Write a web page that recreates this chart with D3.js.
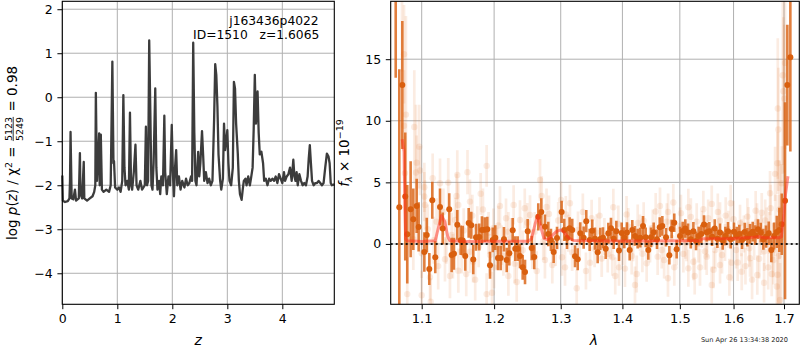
<!DOCTYPE html>
<html>
<head>
<meta charset="utf-8">
<script src="https://cdn.jsdelivr.net/npm/d3@7"></script>
<style>
  body { margin: 0; background: #fff; }
  svg { font-family: "DejaVu Sans", sans-serif; }
</style>
</head>
<body>
<div id="chart"></div>
<script>
// p(z) curve, [z, log p(z)]
const pzCurve = [
  [0.00,-1.78],[0.01,-2.35],[0.05,-2.38],[0.10,-2.36],[0.13,-2.30],[0.14,-1.9],[0.15,-0.79],[0.16,-1.55],
  [0.17,-2.3],[0.20,-2.32],[0.23,-2.1],[0.25,-2.35],[0.30,-2.3],[0.32,-1.27],[0.33,-2.2],[0.36,-2.3],
  [0.39,-1.47],[0.40,-2.3],[0.45,-2.35],[0.50,-2.3],[0.55,-2.25],[0.58,-2.15],[0.60,-2.0],[0.61,0.10],
  [0.63,-1.9],[0.65,-1.4],[0.67,-0.82],[0.68,-2.0],[0.70,-0.85],[0.72,-2.1],[0.75,-2.15],[0.80,-2.1],
  [0.85,-2.15],[0.88,-2.0],[0.91,0.81],[0.93,-1.5],[0.94,-1.45],[0.96,-2.05],[1.00,-2.1],[1.03,-2.05],
  [1.06,-2.15],[1.09,-1.9],[1.11,0.05],[1.13,-1.6],[1.15,-2.0],[1.18,-1.9],[1.21,-2.1],[1.23,-0.35],
  [1.25,-2.0],[1.27,-2.1],[1.30,-1.7],[1.33,-1.08],[1.35,-2.0],[1.38,-2.1],[1.42,-1.9],[1.45,-2.1],
  [1.50,-2.0],[1.52,-0.67],[1.54,-2.0],[1.56,-1.9],[1.58,1.29],[1.60,-0.3],[1.62,-2.0],[1.64,-2.1],
  [1.66,-1.5],[1.69,0.20],[1.71,-1.6],[1.73,-2.1],[1.76,-1.9],[1.78,-2.2],[1.80,-1.8],[1.83,-2.0],
  [1.855,-0.42],[1.87,-1.7],[1.90,-2.2],[1.93,-1.8],[1.96,-2.0],[1.99,-0.63],[2.01,-1.7],[2.03,-2.25],
  [2.05,-1.6],[2.07,-1.2],[2.09,-2.0],[2.12,-1.8],[2.15,-2.1],[2.18,-1.9],[2.22,-2.05],[2.25,-1.85],
  [2.28,-2.0],[2.31,-1.95],[2.34,-1.8],[2.36,-1.9],[2.38,1.24],[2.40,-0.8],[2.42,-1.9],[2.44,-2.0],
  [2.47,-1.24],[2.49,-1.8],[2.51,-1.5],[2.54,-0.77],[2.56,-1.3],[2.58,-1.9],[2.61,-1.7],[2.64,-1.95],
  [2.67,-1.85],[2.70,-2.0],[2.73,-1.9],[2.76,-0.5],[2.78,0.75],[2.80,0.5],[2.82,-0.2],[2.84,-1.3],
  [2.87,-1.9],[2.89,-2.1],[2.92,-1.85],[2.94,-0.6],[2.96,-1.2],[2.98,-1.0],[3.00,-0.75],[3.02,-1.5],
  [3.04,-1.9],[3.07,-2.0],[3.10,-1.6],[3.12,0.35],[3.14,0.2],[3.16,-0.6],[3.19,-1.27],[3.21,-1.9],
  [3.23,-2.2],[3.26,-2.33],[3.28,-2.1],[3.30,-1.9],[3.33,-1.85],[3.35,-2.0],[3.38,-1.8],[3.41,-2.0],
  [3.43,-1.85],[3.46,-1.6],[3.48,-0.7],[3.50,0.51],[3.52,-0.6],[3.54,-0.2],[3.55,0.13],[3.57,-0.8],
  [3.59,-1.3],[3.62,-1.24],[3.65,-1.5],[3.67,-1.9],[3.70,-1.85],[3.73,-2.0],[3.76,-1.85],[3.79,-1.9],
  [3.82,-1.85],[3.85,-1.9],[3.88,-1.8],[3.91,-1.95],[3.94,-1.75],[3.97,-1.85],[4.00,-1.95],[4.03,-1.7],
  [4.05,-1.9],[4.08,-1.8],[4.11,-1.75],[4.14,-1.6],[4.17,-1.9],[4.20,-1.42],[4.22,-1.8],[4.24,-1.9],
  [4.26,-1.7],[4.28,-2.0],[4.31,-1.75],[4.34,-1.9],[4.37,-2.0],[4.40,-1.95],[4.43,-2.0],[4.46,-1.8],
  [4.48,-1.4],[4.50,-1.09],[4.52,-1.5],[4.54,-1.9],[4.57,-2.0],[4.60,-1.95],[4.63,-1.95],[4.66,-1.9],
  [4.69,-1.95],[4.72,-2.0],[4.75,-1.95],[4.78,-1.6],[4.81,-1.28],[4.84,-1.35],[4.86,-1.5],[4.88,-1.95],
  [4.90,-2.0],[4.945,-1.98]
];
const pzTicksX = [0, 1, 2, 3, 4];
const pzTicksY = [-4, -3, -2, -1, 0, 1, 2];

// main spectrum, [lambda, flux, error]
const specMain = [
  [1.0662,22,8.5],[1.0708,2.98,11.2],[1.0747,12.9,5.2],[1.0785,3.85,5.2],[1.0811,0.79,4.0],[1.0855,2.82,3.9],
  [1.0890,2.0,2.5],[1.0934,3.09,2.2],[1.0960,1.38,2.0],[1.1035,-0.65,1.6],[1.1067,0.73,1.4],[1.1101,-2.03,1.3],
  [1.1141,3.55,1.5],[1.1181,-1.08,1.3],[1.1245,3.0,1.5],[1.1281,1.25,1.3],[1.1370,2.82,1.3],[1.1403,-0.9,1.4],
  [1.1435,-0.79,1.3],[1.1481,1.55,1.2],[1.1528,0.3,1.2],[1.1556,0.27,1.2],[1.1591,-0.98,1.2],[1.1639,1.71,1.2],
  [1.1675,1.52,1.1],[1.1703,-1.27,1.2],[1.1742,0.54,1.1],[1.1788,0.57,1.1],[1.1826,1.14,1.1],[1.1865,1.16,1.0],
  [1.1902,1.2,1.0],[1.1941,-1.73,1.1],[1.1980,0.33,1.0],[1.2017,0.51,1.0],[1.2056,-1.14,1.0],[1.2095,-1.14,1.0],
  [1.2143,0.38,1.0],[1.2183,-1.3,1.0],[1.2221,-0.76,1.0],[1.2271,1.11,1.0],[1.2309,-0.38,1.0],[1.2345,-0.38,1.0],
  [1.2379,-0.98,1.0],[1.2419,-1.9,1.0],[1.2454,-2.28,1.0],[1.2494,1.03,1.0],[1.2554,-0.33,1.0],[1.2593,-1.06,1.0],
  [1.2654,2.2,1.1],[1.2700,2.6,1.1],[1.2756,1.4,1.0],[1.2807,0.81,1.0],[1.2848,0.33,0.9],[1.2890,-0.65,0.9],
  [1.2942,0.49,0.9],[1.3014,2.6,0.9],[1.3055,1.14,0.9],[1.3098,0.49,0.9],[1.3140,1.27,0.9],[1.3181,1.14,0.9],
  [1.3225,-1.0,0.9],[1.3268,-1.24,0.9],[1.3309,0.87,0.9],[1.3363,0.51,0.9],[1.3405,1.85,0.9],[1.3460,0.33,0.9],
  [1.3502,1.08,0.9],[1.3546,0.43,0.9],[1.3590,-0.67,0.9],[1.3633,0.41,0.9],[1.3677,0.51,0.85],[1.3722,-0.38,0.85],
  [1.3765,0.87,0.85],[1.3809,1.27,0.85],[1.3854,0.43,0.85],[1.3898,1.03,0.85],[1.3943,-0.54,0.85],[1.3988,0.89,0.85],
  [1.4031,0.51,0.85],[1.4077,0.92,0.85],[1.4123,-0.49,0.85],[1.4167,1.14,0.8],[1.4213,0.65,0.8],[1.4259,0.43,0.8],
  [1.4304,0.51,0.8],[1.4351,1.46,0.8],[1.4397,0.54,0.8],[1.4442,-0.49,0.8],[1.4489,0.54,0.8],[1.4536,0.95,0.8],
  [1.4594,0.38,0.8],[1.4642,1.36,0.8],[1.4688,1.46,0.8],[1.4753,0.54,0.75],[1.4812,-0.92,0.75],[1.4854,1.22,0.75],
  [1.4900,1.73,0.75],[1.4943,-0.43,0.75],[1.5003,0.65,0.75],[1.5052,1.06,0.75],[1.5099,1.25,0.75],[1.5149,0.92,0.75],
  [1.5198,0.38,0.75],[1.5246,1.03,0.75],[1.5295,0.24,0.75],[1.5344,0.65,0.75],[1.5392,0.81,0.75],[1.5442,1.57,0.75],
  [1.5492,0.95,0.75],[1.5541,1.03,0.75],[1.5592,0.59,0.75],[1.5642,1.25,0.75],[1.5692,0.43,0.75],[1.5742,0.92,0.75],
  [1.5793,0.27,0.75],[1.5843,0.65,0.75],[1.5894,1.03,0.75],[1.5945,0.38,0.75],[1.6009,1.0,0.75],[1.6061,0.65,0.75],
  [1.6111,0.81,0.75],[1.6164,0.33,0.75],[1.6216,0.98,0.75],[1.6268,0.54,0.75],[1.6320,0.81,0.8],[1.6373,1.0,0.8],
  [1.6424,0.71,0.8],[1.6477,1.2,0.8],[1.6531,0.92,0.8],[1.6583,0.38,0.85],[1.6637,0.59,0.9],[1.6691,0.87,0.95],
  [1.6743,-0.49,1.0],[1.6798,0.65,1.1],[1.6853,0.98,1.3],[1.6905,1.14,1.8],[1.6954,1.6,2.5],[1.7021,3.5,8.0],
  [1.7068,12.9,4.9],[1.7130,15.15,7.65]
];

// other spectra (faint), [lambda, flux, error]
const specOther = [
  [1.0743,24,10],[1.0769,15.4,4],[1.0769,9.6,4.5],[1.0794,10.5,8],[1.0903,9.5,4.6],[1.0925,5.8,5.5],
  [1.0968,7.9,3.4],[1.0781,5.75,3],[1.0934,6.6,2.2],[1.0978,5.96,2],[1.1035,4.6,2],[1.1146,5.34,2],
  [1.1245,4.93,2],[1.1357,4.98,2],[1.1481,5.6,2],[1.1622,5.83,1.8],[1.1893,6.34,1.7],[1.1808,4.07,1.7],
  [1.1657,3.44,1.8],[1.1495,3.17,1.8],[1.1044,3.17,2],[1.1199,1.81,1.9],[1.1403,0.73,1.8],[1.1312,-1.24,1.8],
  [1.1380,-2.6,1.8],[1.1495,-2.17,1.8],[1.1605,-2.44,1.8],[1.1700,-1.44,1.7],[1.1941,-0.89,1.7],[1.2037,-0.38,1.7],
  [1.2134,-0.98,1.6],[1.2207,-2.6,1.6],[1.2330,-3.09,1.6],[1.1893,-4.07,1.7],[1.1970,-3.96,1.7],[1.0811,-4.07,3],
  [1.1000,-4.17,2],[1.1120,-4.69,1.9],[1.1110,-2.7,1.9],[1.2173,2.09,1.6],[1.2379,1.95,1.6],[1.2488,1.73,1.6],
  [1.2285,3.17,1.6],[1.2085,3.09,1.6],[1.1989,1.27,1.6],[1.1035,3.85,2],[1.0890,0.38,2.5],[1.1000,-0.76,2],
  [1.1449,1.95,1.8],[1.1760,1.36,1.7],[1.2207,1.0,1.6],[1.1657,-0.63,1.7],[1.2680,5.2,1.7],[1.2706,3.9,1.6],
  [1.2529,2.36,1.6],[1.2818,2.44,1.5],[1.3004,3.58,1.5],[1.3145,3.31,1.5],[1.3492,2.09,1.5],[1.3848,2.98,1.5],
  [1.3931,1.63,1.5],[1.4099,1.41,1.5],[1.4362,1.89,1.5],[1.4647,3.09,1.5],[1.4571,2.63,1.5],[1.2756,-1.3,1.5],
  [1.2869,-1.71,1.5],[1.3067,-1.9,1.5],[1.3252,-3.6,1.5],[1.3465,-1.52,1.5],[1.3656,-1.19,1.5],[1.3831,-1.08,1.5],
  [1.3943,-1.9,1.5],[1.4043,-2.0,1.5],[1.4213,-3.33,1.5],[1.4242,-2.44,1.5],[1.4414,-1.57,1.5],[1.4606,-1.03,1.5],
  [1.2564,-0.43,1.6],[1.3020,-1.08,1.5],[1.3755,-0.81,1.5],[1.4157,-0.98,1.5],[1.4472,0.0,1.5],[1.3119,0.87,1.5],
  [1.3272,1.14,1.5],[1.3573,0.92,1.5],[1.3300,0.2,1.5],[1.3700,0.6,1.5],[1.4000,-0.2,1.5],[1.4300,0.9,1.5],
  [1.4883,3.36,1.5],[1.5154,2.98,1.5],[1.5430,2.82,1.5],[1.5586,3.25,1.5],[1.5945,3.31,1.5],[1.6268,2.22,1.5],
  [1.6551,2.54,1.6],[1.6717,4.12,1.8],[1.6818,5.69,2.2],[1.6865,6.56,2.5],[1.6955,4.93,3],[1.4767,1.81,1.5],
  [1.5003,1.46,1.5],[1.5307,1.81,1.5],[1.5742,1.89,1.5],[1.6125,1.68,1.5],[1.6457,1.81,1.5],[1.6650,1.36,1.6],
  [1.4677,-0.49,1.5],[1.4943,-0.22,1.5],[1.5063,-0.81,1.5],[1.5246,-1.44,1.5],[1.5368,-1.9,1.5],[1.5492,-1.03,1.5],
  [1.5586,-3.33,1.5],[1.5742,-1.71,1.5],[1.5964,-1.52,1.5],[1.6158,-2.25,1.5],[1.6320,-1.16,1.5],[1.6463,-2.52,1.6],
  [1.6597,-3.15,1.6],[1.6751,-2.44,1.8],[1.4788,-2.79,1.5],[1.5154,-1.98,1.5],[1.6048,-0.49,1.5],[1.6307,-0.35,1.5],
  [1.6853,-3.46,2.2],[1.6919,-4.55,3],[1.6784,-1.3,2],[1.5338,0.0,1.5],[1.5837,0.11,1.5],[1.4850,0.5,1.5],
  [1.5100,0.3,1.5],[1.5500,0.4,1.5],[1.5650,-0.5,1.5],[1.5900,1.2,1.5],[1.6200,0.8,1.5],[1.6400,0.2,1.5],
  [1.6600,-0.6,1.6],[1.6700,0.9,1.7],[1.6873,11.0,5.7],[1.6974,13.7,8],[1.6986,12.4,6],[1.7021,14.7,7],
  [1.7007,11.8,6],[1.6885,9.3,5],[1.6890,-1.0,5],[1.6940,0.5,6],
  [1.1080,1.2,2],[1.1160,0.3,1.9],[1.1220,-1.8,1.9],[1.1290,2.6,1.9],[1.1330,0.2,1.8],[1.1420,-1.0,1.8],
  [1.1470,3.9,1.8],[1.1540,-0.6,1.8],[1.1570,1.1,1.8],[1.1690,2.3,1.7],[1.1730,-2.9,1.7],[1.1780,-0.2,1.7],
  [1.1840,2.8,1.7],[1.1920,0.9,1.7],[1.2000,-1.9,1.7],[1.2060,1.5,1.6],[1.2110,-0.1,1.6],[1.2250,0.5,1.6],
  [1.2300,-1.6,1.6],[1.2420,-0.5,1.6],[1.2450,2.9,1.6],[1.2600,1.0,1.6],[1.2630,-2.2,1.6],[1.2730,0.2,1.5],
  [1.2780,3.0,1.5],[1.2920,-0.3,1.5],[1.2960,1.9,1.5],[1.3080,2.4,1.5],[1.3180,-0.7,1.5],[1.3350,2.6,1.5],
  [1.3400,-2.2,1.5],[1.3540,-0.4,1.5],[1.3620,2.3,1.5],[1.3800,0.3,1.5],[1.3880,-2.6,1.5],[1.4070,2.4,1.5],
  [1.4180,0.1,1.5],[1.4260,1.7,1.5],[1.4340,-0.8,1.5],[1.4520,1.3,1.5],[1.4720,-1.3,1.5],[1.4790,2.6,1.5],
  [1.4900,-1.9,1.5],[1.5020,2.5,1.5],[1.5120,0.1,1.5],[1.5200,2.2,1.5],[1.5270,-2.6,1.5],[1.5400,1.2,1.5],
  [1.5460,-0.6,1.5],[1.5520,2.1,1.5],[1.5620,-2.1,1.5],[1.5700,2.6,1.5],[1.5780,-0.9,1.5],[1.5850,2.3,1.5],
  [1.5920,-2.7,1.5],[1.6000,2.0,1.5],[1.6080,-1.5,1.5],[1.6150,0.5,1.5],[1.6230,-1.8,1.5],[1.6290,1.5,1.5],
  [1.6360,-2.9,1.6],[1.6430,2.7,1.6],[1.6500,-1.2,1.6],[1.6540,0.7,1.6],[1.6620,1.9,1.7],[1.6680,-1.9,1.8],
  [1.6730,2.9,1.9],[1.6780,-0.5,2.2],[1.6830,1.5,2.5],[1.6870,-2.5,3],[1.6910,2.8,4]
];

// best-fit model, [lambda, flux]
const modelLine = [
  [1.0745,8.5],[1.0770,7.5],[1.0780,3],[1.0790,0.4],[1.081,0.25],[1.10,0.2],[1.118,0.25],[1.121,1.0],
  [1.1265,2.3],[1.131,1.8],[1.135,0.6],[1.138,0.25],[1.16,0.2],[1.20,0.22],[1.25,0.22],[1.255,0.4],
  [1.2605,1.6],[1.2645,2.3],[1.2685,1.5],[1.274,0.45],[1.279,0.35],[1.285,0.6],[1.293,1.0],[1.300,1.14],
  [1.306,0.9],[1.312,0.5],[1.320,0.28],[1.35,0.25],[1.40,0.24],[1.45,0.24],[1.50,0.25],[1.535,0.25],
  [1.542,0.42],[1.60,0.45],[1.64,0.55],[1.65,0.6],[1.66,0.5],[1.69,0.5],[1.695,0.6],[1.700,2.5],
  [1.703,4.0],[1.708,5.5]
];
const specTicksX = [1.1, 1.2, 1.3, 1.4, 1.5, 1.6, 1.7];
const specTicksY = [0, 5, 10, 15];

const width = 800, height = 350;
const svg = d3.select("#chart").append("svg")
  .attr("width", width).attr("height", height);

const gridColor = "#b0b0b0";
const tickLen = 4.9, tickPad = 4.6;

function styleAxis(g, size) {
  g.attr("font-size", size).attr("font-family", "DejaVu Sans, sans-serif");
  g.select(".domain").remove();
  g.selectAll(".tick line").attr("stroke", "#000").attr("stroke-width", 1);
  g.selectAll(".tick text").attr("fill", "#000");
}

// ---------- left panel: p(z) ----------
const pzX = d3.scaleLinear().domain([0, 4.945]).range([62.3, 334.3]);
const pzY = d3.scaleLinear().domain([-4.705, 2.18]).range([304.3, 1.3]);

svg.append("g").selectAll("line").data(pzTicksX).join("line")
  .attr("x1", d => pzX(d)).attr("x2", d => pzX(d))
  .attr("y1", pzY.range()[0]).attr("y2", pzY.range()[1])
  .attr("stroke", gridColor).attr("stroke-width", 1);
svg.append("g").selectAll("line").data(pzTicksY).join("line")
  .attr("x1", pzX.range()[0]).attr("x2", pzX.range()[1])
  .attr("y1", d => pzY(d)).attr("y2", d => pzY(d))
  .attr("stroke", gridColor).attr("stroke-width", 1);

svg.append("path")
  .datum(pzCurve)
  .attr("d", d3.line().x(d => pzX(d[0])).y(d => pzY(d[1])))
  .attr("fill", "none")
  .attr("stroke", "#3c3c3c")
  .attr("stroke-width", 2.3)
  .attr("stroke-linejoin", "round");

svg.append("rect")
  .attr("x", 62.3).attr("y", 1.3).attr("width", 272).attr("height", 303)
  .attr("fill", "none").attr("stroke", "#000").attr("stroke-width", 1.1);

svg.append("g").attr("transform", "translate(0,304.3)")
  .call(d3.axisBottom(pzX).tickValues(pzTicksX).tickSize(tickLen).tickPadding(tickPad).tickFormat(d3.format("d")))
  .call(g => styleAxis(g, 12.5));
svg.append("g").attr("transform", "translate(62.3,0)")
  .call(d3.axisLeft(pzY).tickValues(pzTicksY).tickSize(tickLen).tickPadding(tickPad).tickFormat(d3.format("d")))
  .call(g => styleAxis(g, 12.5));

svg.append("text").attr("x", 319.3).attr("y", 38.7).attr("font-size", 12.3)
  .attr("text-anchor", "end").attr("xml:space", "preserve").style("white-space", "pre")
  .text("ID=1510   z=1.6065");
svg.append("text").attr("x", 318.7).attr("y", 24.5).attr("font-size", 12.3)
  .attr("text-anchor", "end").text("j163436p4022");

svg.append("text").attr("x", 198.3).attr("y", 345).attr("font-size", 14)
  .attr("font-style", "italic").attr("text-anchor", "middle").text("z");

// left y label, rotated, with stacked fraction
(function () {
  const g = svg.append("g").attr("transform", "translate(17,153) rotate(-90)");
  const inner = g.append("g");
  const fs = 13.5;
  const t1 = inner.append("text").attr("font-size", fs).attr("y", 0).attr("xml:space", "preserve");
  t1.append("tspan").text("log ");
  t1.append("tspan").attr("font-style", "italic").text("p");
  t1.append("tspan").text("(");
  t1.append("tspan").attr("font-style", "italic").text("z");
  t1.append("tspan").text(") / ");
  t1.append("tspan").text("χ");
  t1.append("tspan").attr("font-size", 9.5).attr("dy", -5.5).text("2");
  t1.append("tspan").attr("dy", 5.5).text(" = ");
  const w1 = t1.node().getComputedTextLength();
  const ff = 9.5;
  const num = inner.append("text").attr("font-size", ff).attr("x", w1 + 1).attr("y", -5.5).text("5123");
  const den = inner.append("text").attr("font-size", ff).attr("x", w1 + 1).attr("y", 5.5).text("5249");
  const wf = Math.max(num.node().getComputedTextLength(), den.node().getComputedTextLength());
  inner.append("line").attr("x1", w1 + 1).attr("x2", w1 + 1 + wf)
    .attr("y1", -3.8).attr("y2", -3.8).attr("stroke", "#000").attr("stroke-width", 0.8);
  const t3 = inner.append("text").attr("font-size", fs).attr("x", w1 + wf + 2).attr("y", 0)
    .attr("xml:space", "preserve").text(" = 0.98");
  const total = w1 + wf + 2 + t3.node().getComputedTextLength();
  inner.attr("transform", `translate(${-total / 2},0)`);
})();

// ---------- right panel: spectrum ----------
const spX = d3.scaleLog().domain([1.0598, 1.7315]).range([390.7, 799.3]);
const spY = d3.scaleLinear().domain([-4.9, 19.7]).range([304.3, 1.3]);

svg.append("defs").append("clipPath").attr("id", "spClip")
  .append("rect").attr("x", 390.7).attr("y", 1.3).attr("width", 408.6).attr("height", 303);

svg.append("g").selectAll("line").data(specTicksX).join("line")
  .attr("x1", d => spX(d)).attr("x2", d => spX(d))
  .attr("y1", spY.range()[0]).attr("y2", spY.range()[1])
  .attr("stroke", gridColor).attr("stroke-width", 1);
svg.append("g").selectAll("line").data(specTicksY).join("line")
  .attr("x1", spX.range()[0]).attr("x2", spX.range()[1])
  .attr("y1", d => spY(d)).attr("y2", d => spY(d))
  .attr("stroke", gridColor).attr("stroke-width", 1);

const plot = svg.append("g").attr("clip-path", "url(#spClip)");

const faintColor = "rgb(230,120,50)";
plot.append("g").selectAll("line").data(specOther).join("line")
  .attr("x1", d => spX(d[0])).attr("x2", d => spX(d[0]))
  .attr("y1", d => spY(d[1] - d[2])).attr("y2", d => spY(d[1] + d[2]))
  .attr("stroke", faintColor).attr("stroke-opacity", 0.14).attr("stroke-width", 2.7);
plot.append("g").selectAll("circle").data(specOther).join("circle")
  .attr("cx", d => spX(d[0])).attr("cy", d => spY(d[1])).attr("r", 3.2)
  .attr("fill", faintColor).attr("fill-opacity", 0.14);

const mainColor = "#d95f0e";
plot.append("g").selectAll("line").data(specMain).join("line")
  .attr("x1", d => spX(d[0])).attr("x2", d => spX(d[0]))
  .attr("y1", d => spY(d[1] - d[2])).attr("y2", d => spY(d[1] + d[2]))
  .attr("stroke", mainColor).attr("stroke-opacity", 0.8).attr("stroke-width", 2.6);
plot.append("g").selectAll("circle").data(specMain).join("circle")
  .attr("cx", d => spX(d[0])).attr("cy", d => spY(d[1])).attr("r", 3)
  .attr("fill", mainColor);

plot.append("path")
  .datum(modelLine)
  .attr("d", d3.line().x(d => spX(d[0])).y(d => spY(d[1])))
  .attr("fill", "none")
  .attr("stroke", "#ff2b1c")
  .attr("stroke-opacity", 0.5)
  .attr("stroke-width", 3)
  .attr("stroke-linejoin", "round");

plot.append("line")
  .attr("x1", spX.range()[0]).attr("x2", spX.range()[1])
  .attr("y1", spY(0)).attr("y2", spY(0))
  .attr("stroke", "#000").attr("stroke-opacity", 0.85)
  .attr("stroke-width", 2).attr("stroke-dasharray", "2,3");

svg.append("rect")
  .attr("x", 390.7).attr("y", 1.3).attr("width", 408.6).attr("height", 303)
  .attr("fill", "none").attr("stroke", "#000").attr("stroke-width", 1.1);

svg.append("g").attr("transform", "translate(0,304.3)")
  .call(d3.axisBottom(spX).tickValues(specTicksX).tickSize(tickLen).tickPadding(tickPad).tickFormat(d3.format(".1f")))
  .call(g => styleAxis(g, 13));
svg.append("g").attr("transform", "translate(390.7,0)")
  .call(d3.axisLeft(spY).tickValues(specTicksY).tickSize(tickLen).tickPadding(tickPad).tickFormat(d3.format("d")))
  .call(g => styleAxis(g, 12.5));

svg.append("text").attr("x", 594).attr("y", 345).attr("font-size", 14)
  .attr("font-style", "italic").attr("text-anchor", "middle").text("λ");

(function () {
  const t = svg.append("text").attr("font-size", 13.5)
    .attr("transform", "translate(349,153) rotate(-90)")
    .attr("text-anchor", "middle").attr("xml:space", "preserve");
  t.append("tspan").attr("font-style", "italic").text("f");
  t.append("tspan").attr("font-style", "italic").attr("font-size", 9.5).attr("dy", 3).text("λ");
  t.append("tspan").attr("dy", -3).text(" × 10");
  t.append("tspan").attr("font-size", 9.5).attr("dy", -6).text("−19");
})();

svg.append("text").attr("x", 788).attr("y", 342).attr("font-size", 6.6)
  .attr("text-anchor", "end").attr("fill", "#222").text("Sun Apr 26 13:34:38 2020");
</script>
</body>
</html>
